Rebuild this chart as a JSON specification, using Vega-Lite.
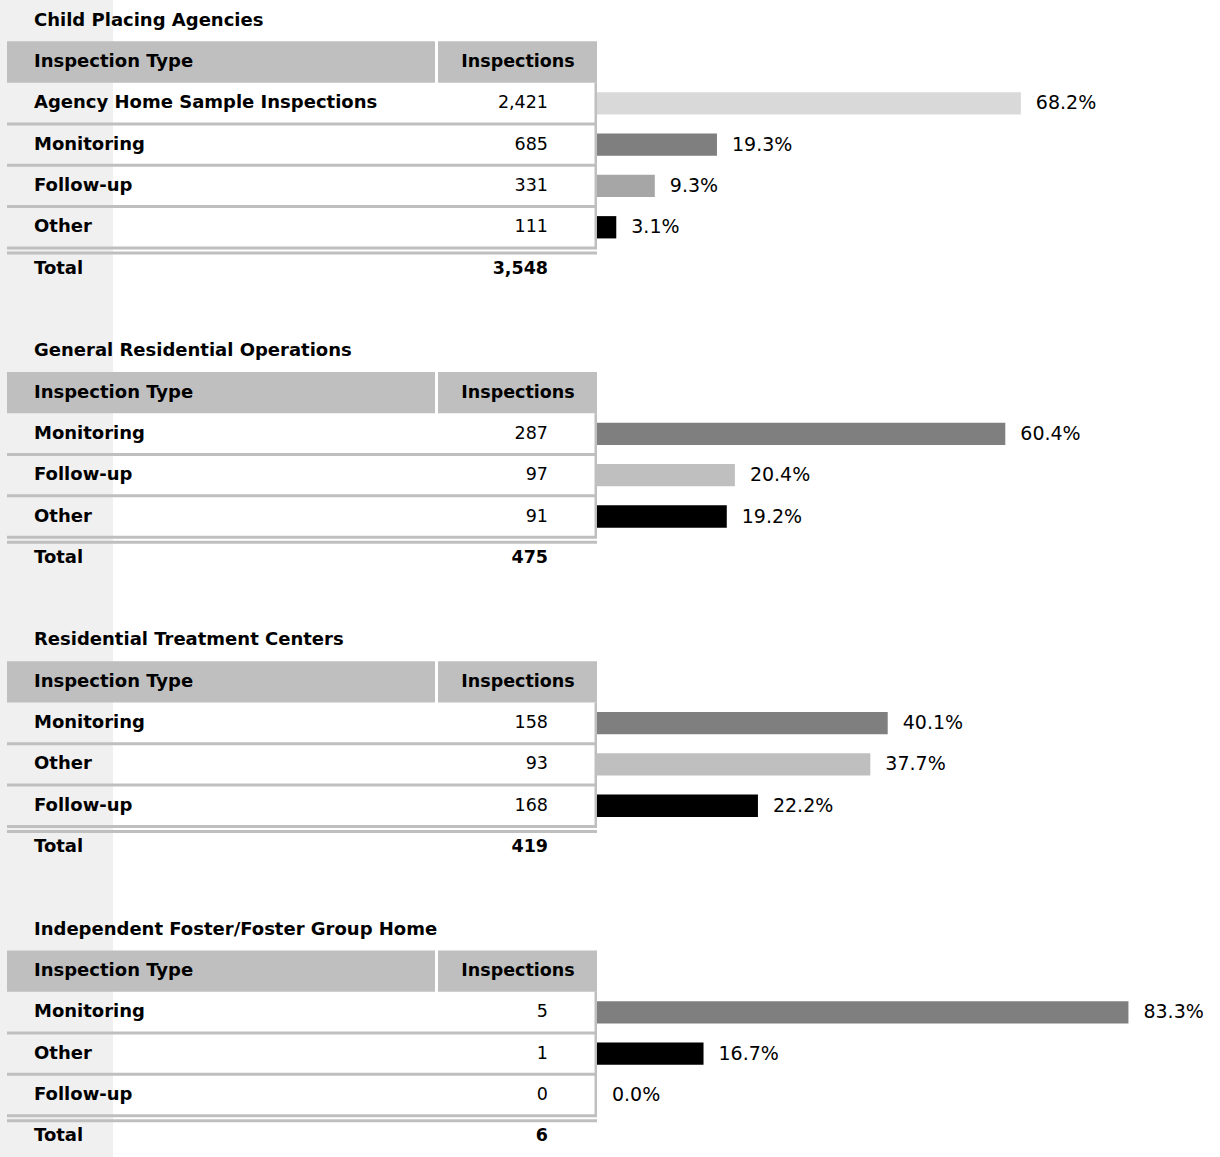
{
  "$schema": "https://vega.github.io/schema/vega-lite/v6.json",
  "width": 1220,
  "height": 1157,
  "autosize": {"type": "fit", "contains": "padding"},
  "padding": 0,
  "background": "white",
  "config": {"view": {"stroke": null}, "font": "DejaVu Sans", "text": {"font": "DejaVu Sans", "color": "#000000"}},
  "datasets": {
    "rows": [
      {"section": "Child Placing Agencies", "type": "Agency Home Sample Inspections", "inspections": 2421, "pct": 0.682},
      {"section": "Child Placing Agencies", "type": "Monitoring", "inspections": 685, "pct": 0.193},
      {"section": "Child Placing Agencies", "type": "Follow-up", "inspections": 331, "pct": 0.093},
      {"section": "Child Placing Agencies", "type": "Other", "inspections": 111, "pct": 0.031},
      {"section": "General Residential Operations", "type": "Monitoring", "inspections": 287, "pct": 0.604},
      {"section": "General Residential Operations", "type": "Follow-up", "inspections": 97, "pct": 0.204},
      {"section": "General Residential Operations", "type": "Other", "inspections": 91, "pct": 0.192},
      {"section": "Residential Treatment Centers", "type": "Monitoring", "inspections": 158, "pct": 0.401},
      {"section": "Residential Treatment Centers", "type": "Other", "inspections": 93, "pct": 0.377},
      {"section": "Residential Treatment Centers", "type": "Follow-up", "inspections": 168, "pct": 0.222},
      {"section": "Independent Foster/Foster Group Home", "type": "Monitoring", "inspections": 5, "pct": 0.833},
      {"section": "Independent Foster/Foster Group Home", "type": "Other", "inspections": 1, "pct": 0.167},
      {"section": "Independent Foster/Foster Group Home", "type": "Follow-up", "inspections": 0, "pct": 0.0}
    ],
    "sections": [
      {"section": "Child Placing Agencies", "total": 3548},
      {"section": "General Residential Operations", "total": 475},
      {"section": "Residential Treatment Centers", "total": 419},
      {"section": "Independent Foster/Foster Group Home", "total": 6}
    ]
  },
  "encoding": {
    "y": {
      "field": "key",
      "type": "nominal",
      "axis": null,
      "scale": {
        "paddingInner": 0,
        "paddingOuter": 0,
        "domain": [
          "Child Placing Agencies|title",
          "Child Placing Agencies|header",
          "Child Placing Agencies|Agency Home Sample Inspections",
          "Child Placing Agencies|Monitoring",
          "Child Placing Agencies|Follow-up",
          "Child Placing Agencies|Other",
          "Child Placing Agencies|total",
          "Child Placing Agencies|gap",
          "General Residential Operations|title",
          "General Residential Operations|header",
          "General Residential Operations|Monitoring",
          "General Residential Operations|Follow-up",
          "General Residential Operations|Other",
          "General Residential Operations|total",
          "General Residential Operations|gap",
          "Residential Treatment Centers|title",
          "Residential Treatment Centers|header",
          "Residential Treatment Centers|Monitoring",
          "Residential Treatment Centers|Other",
          "Residential Treatment Centers|Follow-up",
          "Residential Treatment Centers|total",
          "Residential Treatment Centers|gap",
          "Independent Foster/Foster Group Home|title",
          "Independent Foster/Foster Group Home|header",
          "Independent Foster/Foster Group Home|Monitoring",
          "Independent Foster/Foster Group Home|Other",
          "Independent Foster/Foster Group Home|Follow-up",
          "Independent Foster/Foster Group Home|total"
        ]
      }
    }
  },
  "layer": [
    {
      "data": {"values": [{"band": "strip"}]},
      "mark": {"type": "rect", "color": "#f0f0f0"},
      "encoding": {"x": {"value": 0}, "x2": {"value": 113}, "y": {"value": 0}, "y2": {"value": "height"}}
    },
    {
      "data": {"name": "sections"},
      "transform": [{"calculate": "datum.section + '|header'", "as": "key"}],
      "layer": [
        {"mark": {"type": "rect", "color": "#bfbfbf"}, "encoding": {"x": {"value": 7}, "x2": {"value": 435}}},
        {"mark": {"type": "rect", "color": "#bfbfbf"}, "encoding": {"x": {"value": 438}, "x2": {"value": 597}}},
        {"mark": {"type": "text", "align": "left", "baseline": "middle", "fontWeight": "bold", "fontSize": 18}, "encoding": {"x": {"value": 34}, "text": {"value": "Inspection Type"}}},
        {"mark": {"type": "text", "align": "center", "baseline": "middle", "fontWeight": "bold", "fontSize": 17.5}, "encoding": {"x": {"value": 518}, "text": {"value": "Inspections"}}}
      ]
    },
    {
      "data": {"name": "sections"},
      "transform": [{"calculate": "datum.section + '|title'", "as": "key"}],
      "mark": {"type": "text", "align": "left", "baseline": "middle", "fontWeight": "bold", "fontSize": 18},
      "encoding": {"x": {"value": 34}, "text": {"field": "section"}}
    },
    {
      "data": {"name": "sections"},
      "transform": [{"calculate": "datum.section + '|total'", "as": "key"}],
      "layer": [
        {"mark": {"type": "rule", "color": "#bfbfbf", "strokeWidth": 3, "yOffset": 5}, "encoding": {"x": {"value": 7}, "x2": {"value": 597}, "y": {"field": "key", "type": "nominal", "bandPosition": 0}}},
        {"mark": {"type": "text", "align": "left", "baseline": "middle", "fontWeight": "bold", "fontSize": 18}, "encoding": {"x": {"value": 34}, "text": {"value": "Total"}}},
        {"mark": {"type": "text", "align": "right", "baseline": "middle", "fontWeight": "bold", "fontSize": 17.5}, "encoding": {"x": {"value": 548}, "text": {"field": "total", "type": "quantitative", "format": ","}}}
      ]
    },
    {
      "data": {"name": "rows"},
      "transform": [{"calculate": "datum.section + '|' + datum.type", "as": "key"}],
      "layer": [
        {"mark": {"type": "rule", "color": "#bfbfbf", "strokeWidth": 3}, "encoding": {"x": {"value": 7}, "x2": {"value": 597}, "y": {"field": "key", "type": "nominal", "bandPosition": 1}}},
        {"mark": {"type": "rect", "color": "#bfbfbf"}, "encoding": {"x": {"value": 594.5}, "x2": {"value": 597}}},
        {"mark": {"type": "text", "align": "left", "baseline": "middle", "fontWeight": "bold", "fontSize": 18}, "encoding": {"x": {"value": 34}, "text": {"field": "type"}}},
        {"mark": {"type": "text", "align": "right", "baseline": "middle", "fontSize": 17.5}, "encoding": {"x": {"value": 548}, "text": {"field": "inspections", "type": "quantitative", "format": ","}}}
      ]
    },
    {
      "data": {"name": "rows"},
      "transform": [
        {"filter": "datum.section === 'Child Placing Agencies'"},
        {"calculate": "datum.section + '|' + datum.type", "as": "key"}
      ],
      "encoding": {"x": {"field": "pct", "type": "quantitative", "axis": null, "scale": {"domain": [-0.9606, 1.0024]}}},
      "layer": [
        {"mark": {"type": "bar", "height": {"band": 0.54}}, "encoding": {"color": {"field": "type", "type": "nominal", "legend": null, "scale": {"domain": ["Agency Home Sample Inspections", "Monitoring", "Follow-up", "Other"], "range": ["#d9d9d9", "#7f7f7f", "#a6a6a6", "#000000"]}}}},
        {"mark": {"type": "text", "align": "left", "baseline": "middle", "dx": 15, "fontSize": 19}, "encoding": {"text": {"field": "pct", "type": "quantitative", "format": ".1%"}}}
      ]
    },
    {
      "data": {"name": "rows"},
      "transform": [
        {"filter": "datum.section === 'General Residential Operations'"},
        {"calculate": "datum.section + '|' + datum.type", "as": "key"}
      ],
      "encoding": {"x": {"field": "pct", "type": "quantitative", "axis": null, "scale": {"domain": [-0.8831, 0.9216]}}},
      "layer": [
        {"mark": {"type": "bar", "height": {"band": 0.54}}, "encoding": {"color": {"field": "type", "type": "nominal", "legend": null, "scale": {"domain": ["Monitoring", "Follow-up", "Other"], "range": ["#7f7f7f", "#bfbfbf", "#000000"]}}}},
        {"mark": {"type": "text", "align": "left", "baseline": "middle", "dx": 15, "fontSize": 19}, "encoding": {"text": {"field": "pct", "type": "quantitative", "format": ".1%"}}}
      ]
    },
    {
      "data": {"name": "rows"},
      "transform": [
        {"filter": "datum.section === 'Residential Treatment Centers'"},
        {"calculate": "datum.section + '|' + datum.type", "as": "key"}
      ],
      "encoding": {"x": {"field": "pct", "type": "quantitative", "axis": null, "scale": {"domain": [-0.8234, 0.8593]}}},
      "layer": [
        {"mark": {"type": "bar", "height": {"band": 0.54}}, "encoding": {"color": {"field": "type", "type": "nominal", "legend": null, "scale": {"domain": ["Monitoring", "Other", "Follow-up"], "range": ["#7f7f7f", "#bfbfbf", "#000000"]}}}},
        {"mark": {"type": "text", "align": "left", "baseline": "middle", "dx": 15, "fontSize": 19}, "encoding": {"text": {"field": "pct", "type": "quantitative", "format": ".1%"}}}
      ]
    },
    {
      "data": {"name": "rows"},
      "transform": [
        {"filter": "datum.section === 'Independent Foster/Foster Group Home'"},
        {"calculate": "datum.section + '|' + datum.type", "as": "key"}
      ],
      "encoding": {"x": {"field": "pct", "type": "quantitative", "axis": null, "scale": {"domain": [-0.9357, 0.9765]}}},
      "layer": [
        {"mark": {"type": "bar", "height": {"band": 0.54}}, "encoding": {"color": {"field": "type", "type": "nominal", "legend": null, "scale": {"domain": ["Monitoring", "Other", "Follow-up"], "range": ["#7f7f7f", "#000000", "#bfbfbf"]}}}},
        {"mark": {"type": "text", "align": "left", "baseline": "middle", "dx": 15, "fontSize": 19}, "encoding": {"text": {"field": "pct", "type": "quantitative", "format": ".1%"}}}
      ]
    }
  ],
  "resolve": {"scale": {"x": "independent", "color": "independent"}}
}
